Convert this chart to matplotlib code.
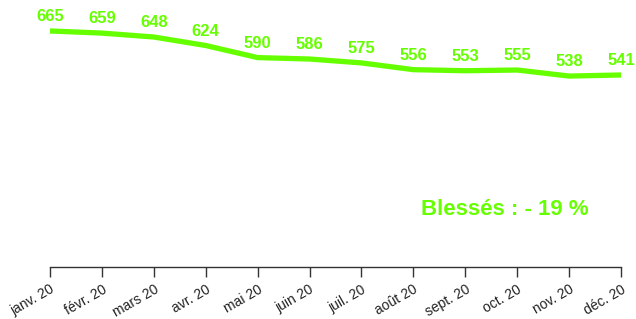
import matplotlib.pyplot as plt

plt.rcParams['font.family'] = ['Liberation Sans', 'DejaVu Sans']

mois = ["janv. 20", "févr. 20", "mars 20", "avr. 20", "mai 20", "juin 20",
        "juil. 20", "août 20", "sept. 20", "oct. 20", "nov. 20", "déc. 20"]
blesses = [665, 659, 648, 624, 590, 586, 575, 556, 553, 555, 538, 541]
vert = "#66ff00"

fig = plt.figure(figsize=(6.36, 3.19), dpi=100)
ax = fig.add_axes([50/636, 52/319, 571/636, 263/319])

x = list(range(len(mois)))
ax.plot(x, blesses, color=vert, lw=3.8, solid_capstyle='butt', clip_on=False)

for xi, v in zip(x, blesses):
    ax.annotate(str(v), (xi, v), xytext=(0, 5), textcoords='offset points',
                ha='center', va='bottom', color=vert, fontsize=12,
                fontweight='bold', annotation_clip=False)

ax.text(8.76, 163, "Blessés : - 19 %", color=vert, fontsize=16,
        fontweight='bold', ha='center', va='center')

ax.set_xlim(0, 11)
ax.set_ylim(0, 741)
ax.set_yticks([])
for s in ['top', 'right', 'left']:
    ax.spines[s].set_visible(False)
ax.spines['bottom'].set_color('#333333')
ax.spines['bottom'].set_linewidth(1)
ax.set_xticks(x)
ax.set_xticklabels(mois, rotation=30, ha='right', rotation_mode='anchor',
                   fontsize=10, color='#222222')
ax.tick_params(axis='x', length=7, width=1, color='#333333', pad=4)

fig.savefig("out.png", dpi=100)
